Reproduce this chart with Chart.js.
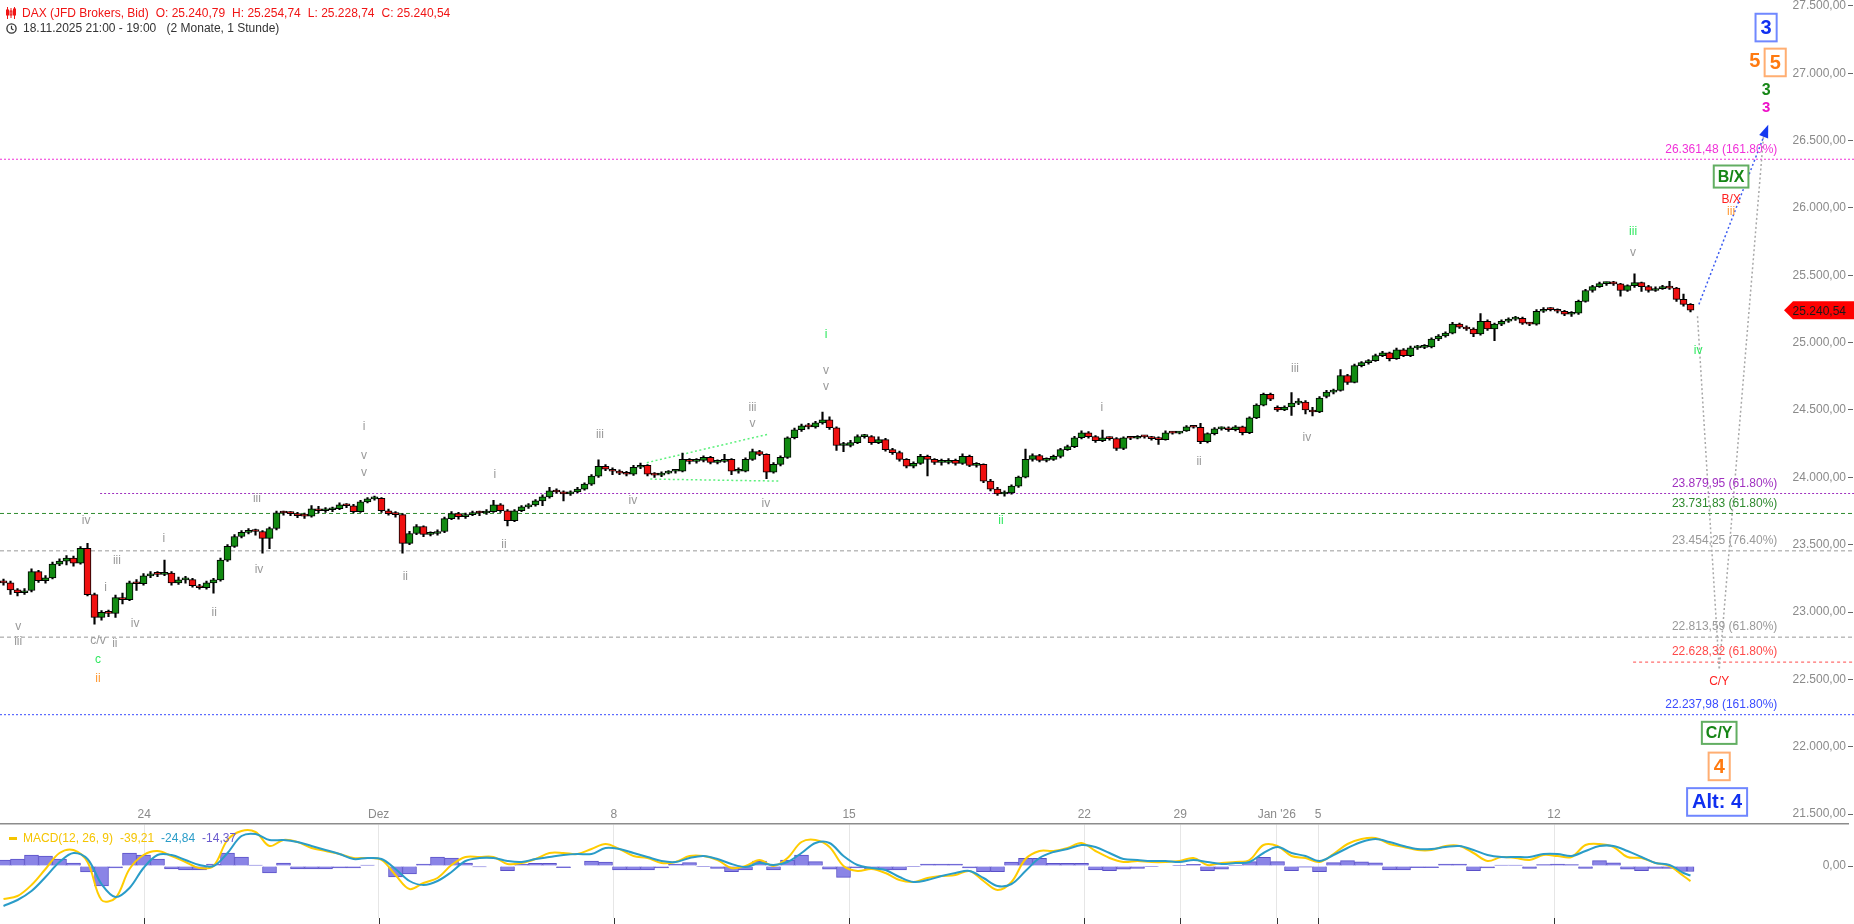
<!DOCTYPE html>
<html>
<head>
<meta charset="utf-8">
<script src="https://cdn.jsdelivr.net/npm/chart.js@4.4.1/dist/chart.umd.min.js"></script>
<style>
  body { margin: 0; background: #fff; font-family: "Liberation Sans", Arial, sans-serif; }
  #wrap { position: relative; width: 1854px; height: 924px; overflow: hidden; }
  canvas { position: absolute; left: 0; }
  #price { top: 0; }
  #macd { top: 800px; }
  .row { position: absolute; left: 6px; font-size: 12px; line-height: 14px; white-space: pre; display: flex; align-items: center; }
  .row svg { margin-right: 6px; }
  .row span { margin-right: 7px; }
  #head1 { top: 6px; color: #f01414; }
  #head2 { top: 21px; color: #333; }
  #legend { top: 831px; left: 9px; }
  #legend i { display: inline-block; width: 8px; height: 3px; background: #f5c400; margin-right: 6px; }
</style>
</head>
<body>
<div id="wrap">
  <canvas id="price" width="1854" height="824"></canvas>
  <canvas id="macd" width="1854" height="124"></canvas>
  <div class="row" id="head1">
    <svg width="10" height="12" viewBox="0 0 10 12"><g stroke="#f01414" fill="none" stroke-width="1"><path d="M1.5 0v12M5 1v10M8.5 0v12"/><rect x="0.5" y="3" width="2" height="5"/><rect x="4" y="4" width="2" height="4"/><rect x="7.5" y="2" width="2" height="6"/></g></svg>
    <span id="title"></span><span id="ohlcO"></span><span id="ohlcH"></span><span id="ohlcL"></span><span id="ohlcC"></span>
  </div>
  <div class="row" id="head2">
    <svg width="11" height="11" viewBox="0 0 11 11"><circle cx="5.5" cy="5.5" r="4.6" stroke="#333" stroke-width="1.3" fill="none"/><path d="M5.5 2.8v2.9l2 1.4" stroke="#333" stroke-width="1.2" fill="none"/></svg>
    <span>18.11.2025 21:00 - 19:00 </span><span>(2 Monate, 1 Stunde)</span>
  </div>
  <div class="row" id="legend">
    <i></i><span style="color:#f5c400">MACD(12, 26, 9)</span><span id="lgM" style="color:#f5c400"></span><span id="lgS" style="color:#2a9cc8"></span><span id="lgH" style="color:#6a5acd"></span>
  </div>
</div>
<script>
const FONT = '"Liberation Sans", Arial, sans-serif';

// 3-hour candles, DAX (JFD Brokers, Bid)
const open = [
  23230, 23217, 23165, 23143, 23160, 23300, 23232, 23254, 23356, 23378,
  23400, 23363, 23473, 23129, 22960, 22997, 22990, 23107, 23092, 23217,
  23210, 23268, 23283, 23280, 23290, 23217, 23239, 23240, 23195, 23180,
  23217, 23239, 23385, 23488, 23561, 23591, 23605, 23598, 23547, 23620,
  23737, 23735, 23730, 23715, 23712, 23767, 23752, 23759, 23767, 23796,
  23789, 23745, 23818, 23840, 23845, 23752, 23730, 23723, 23510, 23583,
  23635, 23576, 23583, 23598, 23693, 23730, 23708, 23723, 23737, 23735,
  23745, 23796, 23752, 23679, 23752, 23781, 23796, 23825, 23855, 23899,
  23891, 23877, 23891, 23913, 23950, 24009, 24082, 24060, 24045, 24031,
  24023, 24075, 24089, 24023, 24016, 24031, 24045, 24045, 24133, 24118,
  24126, 24148, 24111, 24118, 24133, 24045, 24045, 24133, 24192, 24170,
  24038, 24096, 24148, 24294, 24353, 24382, 24375, 24404, 24426, 24368,
  24236, 24236, 24258, 24302, 24302, 24258, 24280, 24206, 24184, 24133,
  24082, 24104, 24155, 24133, 24111, 24111, 24126, 24104, 24155, 24089,
  24096, 23972, 23913, 23876, 23884, 23935, 24001, 24133, 24162, 24126,
  24133, 24155, 24206, 24228, 24294, 24331, 24302, 24272, 24294, 24287,
  24214, 24294, 24290, 24302, 24300, 24287, 24280, 24331, 24328, 24345,
  24375, 24372, 24265, 24324, 24360, 24368, 24353, 24375, 24331, 24441,
  24536, 24617, 24520, 24500, 24522, 24551, 24558, 24500, 24485, 24600,
  24632, 24646, 24756, 24705, 24829, 24851, 24866, 24903, 24925, 24881,
  24947, 24903, 24961, 24965, 24969, 25027, 25049, 25071, 25137, 25115,
  25101, 25064, 25159, 25101, 25137, 25159, 25174, 25181, 25144, 25137,
  25233, 25247, 25245, 25233, 25211, 25218, 25306, 25387, 25416, 25438,
  25440, 25436, 25387, 25423, 25445, 25416, 25387, 25401, 25409, 25405,
  25321, 25284
];
const high = [
  23245, 23230, 23175, 23175, 23320, 23310, 23270, 23370, 23395, 23420,
  23415, 23485, 23510, 23140, 23010, 23015, 23125, 23140, 23230, 23240,
  23285, 23300, 23300, 23385, 23300, 23260, 23265, 23250, 23205, 23230,
  23250, 23400, 23500, 23575, 23605, 23620, 23615, 23605, 23630, 23750,
  23750, 23745, 23740, 23735, 23790, 23785, 23775, 23780, 23810, 23805,
  23800, 23830, 23850, 23860, 23850, 23765, 23745, 23730, 23600, 23650,
  23640, 23595, 23610, 23705, 23745, 23740, 23735, 23750, 23750, 23760,
  23830, 23805, 23760, 23760, 23790, 23805, 23835, 23870, 23925, 23915,
  23900, 23900, 23925, 23960, 24020, 24130, 24095, 24070, 24055, 24045,
  24090, 24105, 24095, 24035, 24040, 24050, 24055, 24180, 24140, 24140,
  24160, 24155, 24130, 24170, 24140, 24070, 24145, 24210, 24200, 24175,
  24110, 24160, 24300, 24365, 24395, 24400, 24415, 24485, 24450, 24375,
  24260, 24275, 24315, 24320, 24310, 24300, 24290, 24215, 24195, 24140,
  24115, 24170, 24165, 24140, 24135, 24140, 24135, 24175, 24165, 24110,
  24100, 23985, 23925, 23900, 23945, 24010, 24210, 24175, 24170, 24145,
  24165, 24215, 24240, 24305, 24345, 24340, 24310, 24350, 24300, 24295,
  24300, 24300, 24310, 24310, 24305, 24300, 24345, 24340, 24340, 24385,
  24385, 24400, 24330, 24370, 24375, 24375, 24385, 24380, 24450, 24545,
  24625, 24625, 24530, 24530, 24630, 24585, 24570, 24520, 24600, 24645,
  24655, 24800, 24765, 24840, 24860, 24875, 24915, 24935, 24930, 24960,
  24955, 24975, 24980, 24985, 25035, 25060, 25080, 25150, 25145, 25125,
  25110, 25215, 25170, 25145, 25170, 25185, 25195, 25190, 25150, 25245,
  25260, 25260, 25250, 25240, 25230, 25315, 25395, 25425, 25450, 25450,
  25455, 25440, 25430, 25510, 25450, 25425, 25415, 25425, 25455, 25410,
  25360, 25290
];
const low = [
  23200, 23130, 23120, 23130, 23150, 23220, 23215, 23245, 23345, 23350,
  23340, 23355, 23120, 22910, 22940, 22965, 22960, 23060, 23085, 23160,
  23200, 23255, 23262, 23270, 23200, 23205, 23215, 23185, 23170, 23170,
  23140, 23230, 23375, 23480, 23550, 23580, 23570, 23437, 23470, 23610,
  23720, 23715, 23700, 23695, 23705, 23735, 23740, 23745, 23760, 23775,
  23735, 23740, 23810, 23830, 23740, 23720, 23705, 23437, 23500, 23575,
  23560, 23565, 23570, 23590, 23685, 23690, 23695, 23715, 23715, 23725,
  23740, 23740, 23640, 23670, 23745, 23770, 23785, 23790, 23845, 23880,
  23825, 23865, 23885, 23905, 23940, 24000, 24050, 24020, 24020, 24010,
  24015, 24065, 24010, 24000, 24005, 24025, 24030, 24040, 24100, 24105,
  24115, 24100, 24100, 24110, 24020, 24030, 24040, 24125, 24160, 23990,
  24030, 24085, 24140, 24285, 24340, 24360, 24365, 24395, 24355, 24200,
  24190, 24225, 24250, 24290, 24245, 24250, 24195, 24170, 24120, 24070,
  24070, 24095, 24010, 24095, 24090, 24100, 24090, 24095, 24080, 24075,
  23960, 23900, 23865, 23860, 23875, 23925, 23995, 24120, 24115, 24115,
  24125, 24145, 24200, 24220, 24285, 24290, 24260, 24265, 24275, 24200,
  24205, 24280, 24285, 24290, 24275, 24245, 24275, 24320, 24322, 24340,
  24365, 24250, 24255, 24315, 24350, 24340, 24345, 24315, 24325, 24435,
  24530, 24570, 24490, 24495, 24460, 24540, 24470, 24455, 24480, 24590,
  24620, 24640, 24690, 24700, 24820, 24840, 24860, 24895, 24865, 24875,
  24895, 24895, 24950, 24955, 24960, 25015, 25040, 25065, 25105, 25090,
  25045, 25055, 25090, 25015, 25125, 25150, 25165, 25135, 25125, 25130,
  25225, 25235, 25220, 25200, 25195, 25210, 25300, 25375, 25410, 25425,
  25425, 25345, 25380, 25410, 25380, 25375, 25380, 25395, 25395, 25305,
  25270, 25228.74
];
const close = [
  23217, 23165, 23143, 23158, 23300, 23232, 23254, 23356, 23378, 23400,
  23363, 23473, 23129, 22960, 22997, 22990, 23107, 23092, 23217, 23210,
  23268, 23283, 23280, 23290, 23217, 23239, 23240, 23195, 23180, 23217,
  23239, 23385, 23488, 23561, 23591, 23605, 23598, 23547, 23620, 23737,
  23735, 23730, 23715, 23712, 23767, 23752, 23759, 23767, 23796, 23789,
  23745, 23818, 23840, 23845, 23752, 23730, 23723, 23510, 23583, 23635,
  23576, 23583, 23598, 23693, 23730, 23708, 23723, 23737, 23735, 23745,
  23796, 23752, 23679, 23752, 23781, 23796, 23825, 23855, 23899, 23891,
  23877, 23891, 23913, 23950, 24009, 24082, 24060, 24045, 24031, 24023,
  24075, 24089, 24023, 24016, 24031, 24045, 24045, 24133, 24118, 24126,
  24148, 24111, 24118, 24133, 24045, 24045, 24133, 24192, 24170, 24038,
  24096, 24148, 24294, 24353, 24382, 24375, 24404, 24426, 24368, 24236,
  24236, 24258, 24302, 24302, 24258, 24280, 24206, 24184, 24133, 24082,
  24104, 24155, 24133, 24111, 24111, 24126, 24104, 24155, 24089, 24096,
  23972, 23913, 23876, 23884, 23935, 24001, 24133, 24162, 24126, 24133,
  24155, 24206, 24228, 24294, 24331, 24302, 24272, 24294, 24287, 24214,
  24294, 24290, 24302, 24300, 24287, 24280, 24331, 24328, 24331, 24375,
  24372, 24265, 24324, 24360, 24368, 24353, 24375, 24331, 24441, 24536,
  24617, 24580, 24500, 24522, 24551, 24558, 24500, 24485, 24588, 24632,
  24646, 24756, 24705, 24829, 24851, 24866, 24903, 24925, 24881, 24947,
  24903, 24961, 24965, 24969, 25027, 25049, 25071, 25137, 25115, 25101,
  25064, 25159, 25101, 25137, 25159, 25174, 25181, 25144, 25137, 25233,
  25247, 25245, 25233, 25211, 25218, 25306, 25387, 25416, 25438, 25440,
  25436, 25387, 25423, 25445, 25416, 25387, 25401, 25409, 25405, 25321,
  25284, 25240.54
];

// last hourly bar shown in the header
const lastBar = { o: 25240.79, h: 25254.74, l: 25228.74, c: 25240.54 };

// MACD(12, 26, 9), one reading every second candle (last one on the final candle)
const macdLine = [
  -85.8, -78, -49.4, -7.8, 33.8, 41.6, 10.4, -88.4, -83.2, -7.8,
  28.6, 39, 26, 10.4, -5.2, 0, 67.6, 91, 88.4, 52,
  67.6, 62.4, 46.8, 39, 31.2, 20.8, 20.8, 15.6, -23.4, -59.8,
  -44.2, -31.2, 2.6, 23.4, 23.4, 23.4, 5.2, 7.8, 18.2, 33.8,
  33.8, 31.2, 44.2, 57.2, 44.2, 26, 20.8, 7.8, 10.4, 26,
  26, 15.6, -5.2, 0, 15.6, 0, 20.8, 62.4, 67.6, 49.4,
  0, -13, -7.8, -18.2, -36.4, -41.6, -31.2, -26, -23.4, -13,
  -39, -62.4, -41.6, 18.2, 39, 39, 46.8, 59.8, 39, 20.8,
  10.4, 13, 10.4, 10.4, 13, 20.8, 2.6, 7.8, 10.4, 15.6,
  54.6, 52, 26, 20.8, 10.4, 31.2, 57.2, 70.2, 72.8, 57.2,
  49.4, 41.6, 41.6, 52, 52, 33.8, 13, 23.4, 20.8, 15.6,
  28.6, 26, 23.4, 54.6, 57.2, 49.4, 23.4, 20.8, 7.8, 0,
  -26, -39.21
];
const signalLine = [
  -104, -88.4, -65, -28.6, 10.4, 33.8, 18.2, -46.8, -80.6, -57.2,
  -5.2, 28.6, 28.6, 15.6, 2.6, 0, 33.8, 78, 83.2, 67.6,
  67.6, 62.4, 52, 41.6, 31.2, 18.2, 20.8, 18.2, -7.8, -39,
  -49.4, -39, -15.6, 13, 20.8, 20.8, 13, 10.4, 18.2, 23.4,
  28.6, 31.2, 31.2, 46.8, 44.2, 33.8, 23.4, 13, 10.4, 20.8,
  26, 18.2, 5.2, -2.6, 7.8, 2.6, 10.4, 33.8, 59.8, 59.8,
  26, 2.6, -5.2, -10.4, -28.6, -41.6, -36.4, -26, -18.2, -13,
  -31.2, -52, -46.8, -13, 20.8, 36.4, 44.2, 54.6, 49.4, 33.8,
  18.2, 15.6, 13, 13, 10.4, 15.6, 10.4, 5.2, 7.8, 10.4,
  33.8, 49.4, 33.8, 26, 13, 28.6, 46.8, 62.4, 70.2, 62.4,
  52, 44.2, 44.2, 49.4, 52, 41.6, 28.6, 23.4, 23.4, 23.4,
  31.2, 31.2, 26, 39, 52, 52, 39, 23.4, 7.8, 2.6,
  -18.2, -24.84
];
const histogram = [
  15.6, 18, 28.6, 26, 18.2, 7.8, -15.6, -52, -5, 33.8,
  28.6, 18.2, -7.8, -10.4, -10.4, 5.2, 33.8, 23.4, 2.6, -18.2,
  7.8, -7.8, -7.8, -7.8, -5.2, -5.2, 2.6, 0, -28.6, -20.8,
  5.2, 23.4, 20.8, 7.8, -2.6, 0, -12.2, 5, 7, 7,
  -4.4, 0, 13, 10.4, -10.4, -10.4, -10.4, -5, 5, 8.6,
  -2, -6, -14.8, -10, 13, -10, 15.6, 28.6, 11.2, -8,
  -29.4, -5, -8, -10.4, -10.4, -2, 5.2, 5.2, 5.2, -5,
  -14.8, -14.8, 10, 20, 20, 7, 7, 7, -10.4, -12.2,
  -8, -6, -2, 0, 2, 4.4, -12.2, -8, 2.6, 11.2,
  22.6, 11.2, -12.2, -3, -14.8, 8.6, 13.8, 11, 8, -10.4,
  -10.4, -4.4, -4.4, 5.2, 5.2, -12.2, -5, 2.6, 2.6, -6,
  4, 5.2, 4, -6, 13.8, 8, -8, -12.2, -6, -6,
  -14.4, -14.37
];

// axes
const priceTicks = [21500, 22000, 22500, 23000, 23500, 24000, 24500, 25000, 25500, 26000, 26500, 27000, 27500];
const tickPos = [20.1, 53.6, 87.2, 120.8, 154.4, 168.1, 181.9, 187.8, 221.5];
const tickText = ['24', 'Dez', '8', '15', '22', '29', "Jan '26", '5', '12'];

// Fibonacci levels
const fibLevels = [26361.48, 23879.95, 23731.83, 23454.25, 22813.59, 22628.32, 22237.98];
const fibPct = ['161.80%', '61.80%', '61.80%', '76.40%', '61.80%', '61.80%', '161.80%'];
const fibFrom = [-0.5, 13.8, -0.5, -0.5, -0.5, 232.8, -0.5];
const fibColor = ['#f030d8', '#a030c0', '#2e8b2e', '#999999', '#999999', '#ff4a4a', '#3a4cff'];
const fibDash = [[2, 2], [2, 2], [4, 3], [4, 3], [4, 3], [3, 3], [2, 2]];

// projected paths
const blueProj = [[242.2, 25284], [251.9, 26589]];
const grayProj = [[242.0, 25196], [245.1, 22572], [251.5, 26574]];
const wedgeTop = [[91.9, 24109], [109.3, 24321]];
const wedgeBottom = [[92.4, 23987], [110.9, 23972]];

// wave counts: text, candle slot, price, colour
const GRAY = '#9a9a9a', LIME = '#30e860', ORANGE = '#ff9933', RED = '#ff2020';
const waveLabels = [
  ['iv', 11.8, 23679, GRAY], ['iii', 36.2, 23840, GRAY], ['i', 22.9, 23547, GRAY],
  ['iii', 16.2, 23378, GRAY], ['i', 14.6, 23180, GRAY], ['v', 2.1, 22894, GRAY],
  ['iv', 18.8, 22916, GRAY], ['ii', 30.1, 22997, GRAY], ['iv', 36.5, 23312, GRAY],
  ['iii', 2.1, 22777, GRAY], ['c/v', 13.5, 22785, GRAY], ['ii', 15.9, 22763, GRAY],
  ['c', 13.5, 22645, LIME], ['ii', 13.5, 22506, ORANGE],
  ['i', 51.5, 24375, GRAY], ['v', 51.5, 24163, GRAY], ['v', 51.5, 24038, GRAY],
  ['ii', 57.4, 23261, GRAY], ['i', 70.2, 24023, GRAY], ['ii', 71.5, 23503, GRAY],
  ['iii', 85.2, 24317, GRAY], ['iv', 89.9, 23825, GRAY], ['iii', 107, 24517, GRAY],
  ['v', 107, 24397, GRAY], ['iv', 108.9, 23803, GRAY],
  ['i', 117.5, 25062, LIME], ['v', 117.5, 24793, GRAY], ['v', 117.5, 24676, GRAY],
  ['ii', 142.5, 23681, LIME], ['i', 156.9, 24514, GRAY], ['ii', 170.8, 24119, GRAY],
  ['iii', 184.5, 24808, GRAY], ['iv', 186.2, 24294, GRAY],
  ['iii', 232.8, 25826, LIME], ['v', 232.8, 25665, GRAY], ['iv', 242.1, 24940, LIME],
  ['B/X', 246.8, 26061, RED], ['iii', 246.8, 25973, ORANGE], ['C/Y', 245.1, 22484, RED]
];
// bold targets: text, slot, price, colour, box colour (null = no box), font size
const targetLabels = [
  ['3', 251.8, 27339, '#1030f0', '#7088ff', 20],
  ['5', 250.2, 27094, '#ff7a10', null, 20],
  ['5', 253.1, 27080, '#ff7a10', '#ffae72', 20],
  ['3', 251.8, 26882, '#168616', null, 16],
  ['3', 251.8, 26750, '#ee10c8', null, 15],
  ['B/X', 246.8, 26233, '#168616', '#62ae62', 16],
  ['C/Y', 245.1, 22103, '#168616', '#62ae62', 16],
  ['4', 245.1, 21854, '#ff7a10', '#ffae72', 20],
  ['Alt: 4', 244.8, 21590, '#1030f0', '#6f86ff', 20]
];

const SLOTS = 264;
const X_MIN = -0.5, X_MAX = SLOTS - 0.5, X_EDGE = 264.4;
const FIB_LABEL_X = 253.4;

function fmt(v) {
  const parts = Math.abs(v).toFixed(2).split('.');
  return (v < 0 ? '-' : '') + parts[0].replace(/\B(?=(\d{3})+(?!\d))/g, '.') + ',' + parts[1];
}
const pts = (arr) => arr.map((p) => ({ x: p[0], y: p[1] }));

document.getElementById('title').textContent = 'DAX (JFD Brokers, Bid)';
document.getElementById('ohlcO').textContent = 'O: ' + fmt(lastBar.o);
document.getElementById('ohlcH').textContent = 'H: ' + fmt(lastBar.h);
document.getElementById('ohlcL').textContent = 'L: ' + fmt(lastBar.l);
document.getElementById('ohlcC').textContent = 'C: ' + fmt(lastBar.c);
document.getElementById('lgM').textContent = fmt(macdLine[macdLine.length - 1]);
document.getElementById('lgS').textContent = fmt(signalLine[signalLine.length - 1]);
document.getElementById('lgH').textContent = fmt(histogram[histogram.length - 1]);

const rightAxis = (ticks, min, max) => ({
  position: 'right',
  min: min,
  max: max,
  afterFit: (ax) => { ax.width = 6; },
  afterBuildTicks: (ax) => { ax.ticks = ticks.map((v) => ({ value: v })); },
  border: { display: false },
  grid: { drawOnChartArea: false, drawTicks: true, tickLength: 5, color: '#666' },
  ticks: {
    mirror: true, padding: -2, autoSkip: false, color: '#8a8a8a',
    font: { family: FONT, size: 12 },
    callback: (v) => fmt(v)
  }
});

// ---------- price panel ----------
const candleLines = [];
fibLevels.forEach((v, k) => {
  candleLines.push({
    type: 'line', data: pts([[fibFrom[k], v], [X_EDGE, v]]),
    borderColor: fibColor[k], borderWidth: 1, borderDash: fibDash[k],
    pointRadius: 0, clip: false, order: 3
  });
});
[[wedgeTop, '#5cf07c'], [wedgeBottom, '#5cf07c'], [grayProj, '#a8a8a8'], [blueProj, '#3a5af0']].forEach((p) => {
  candleLines.push({
    type: 'line', data: pts(p[0]), borderColor: p[1], borderWidth: 1.5,
    borderDash: [2, 2.5], pointRadius: 0, clip: false, order: 2
  });
});

const wavePlugin = {
  id: 'waves',
  afterDatasetsDraw(chart) {
    const { ctx } = chart;
    const x = chart.scales.x, y = chart.scales.y;
    ctx.save();
    ctx.textBaseline = 'middle';

    ctx.textAlign = 'right';
    ctx.font = '12px ' + FONT;
    fibLevels.forEach((v, k) => {
      ctx.fillStyle = fibColor[k];
      ctx.fillText(fmt(v) + ' (' + fibPct[k] + ')', x.getPixelForValue(FIB_LABEL_X), y.getPixelForValue(v) - 10);
    });

    ctx.textAlign = 'center';
    waveLabels.forEach((w) => {
      ctx.fillStyle = w[3];
      ctx.fillText(w[0], x.getPixelForValue(w[1]), y.getPixelForValue(w[2]));
    });

    targetLabels.forEach((t) => {
      const px = x.getPixelForValue(t[1]), py = y.getPixelForValue(t[2]);
      const size = t[5];
      ctx.font = 'bold ' + size + 'px ' + FONT;
      if (t[4]) {
        const w = ctx.measureText(t[0]).width + size * 0.5;
        const h = size * 1.38;
        ctx.fillStyle = '#fff';
        ctx.fillRect(px - w / 2, py - h / 2, w, h);
        ctx.strokeStyle = t[4];
        ctx.lineWidth = 2;
        ctx.strokeRect(px - w / 2, py - h / 2, w, h);
      }
      ctx.fillStyle = t[3];
      ctx.fillText(t[0], px, py + 1);
    });

    // arrow head at the end of the blue projection
    const a = blueProj[0], b = blueProj[1];
    const ax = x.getPixelForValue(a[0]), ay = y.getPixelForValue(a[1]);
    const bx = x.getPixelForValue(b[0]), by = y.getPixelForValue(b[1]);
    const ang = Math.atan2(by - ay, bx - ax);
    ctx.fillStyle = '#1438f0';
    ctx.beginPath();
    ctx.moveTo(bx + Math.cos(ang) * 4, by + Math.sin(ang) * 4);
    ctx.lineTo(bx - Math.cos(ang - 0.5) * 10, by - Math.sin(ang - 0.5) * 10);
    ctx.lineTo(bx - Math.cos(ang + 0.5) * 10, by - Math.sin(ang + 0.5) * 10);
    ctx.closePath();
    ctx.fill();

    // current price tag
    const ty = y.getPixelForValue(lastBar.c);
    const right = chart.width;
    ctx.fillStyle = '#ff0000';
    ctx.beginPath();
    ctx.moveTo(right - 70, ty);
    ctx.lineTo(right - 61, ty - 9);
    ctx.lineTo(right, ty - 9);
    ctx.lineTo(right, ty + 9);
    ctx.lineTo(right - 61, ty + 9);
    ctx.closePath();
    ctx.fill();
    ctx.fillStyle = '#1a1a1a';
    ctx.font = '12px ' + FONT;
    ctx.textAlign = 'right';
    ctx.fillText(fmt(lastBar.c), right - 8, ty + 1);
    ctx.restore();
  }
};

new Chart(document.getElementById('price'), {
  type: 'bar',
  data: {
    datasets: [
      {
        data: close.map((c, i) => ({ x: i, y: [open[i], c] })),
        backgroundColor: close.map((c, i) => (c >= open[i] ? '#118a11' : '#f01010')),
        borderColor: '#000', borderWidth: 1, borderSkipped: false,
        barThickness: 7, minBarLength: 2, grouped: false, order: 0
      },
      {
        data: close.map((c, i) => ({ x: i, y: [low[i], high[i]] })),
        backgroundColor: '#000', barThickness: 1.5, grouped: false, order: 1
      },
      ...candleLines
    ]
  },
  options: {
    responsive: false, animation: false, devicePixelRatio: 1,
    layout: { padding: 0 },
    plugins: { legend: { display: false }, tooltip: { enabled: false } },
    scales: {
      x: { type: 'linear', display: false, min: X_MIN, max: X_MAX, offset: false, grid: { offset: false } },
      y: rightAxis(priceTicks, 21465, 27505)
    }
  },
  plugins: [wavePlugin]
});

// ---------- MACD panel ----------
const bottomTicks = {
  id: 'bottomTicks',
  afterDraw(chart) {
    const { ctx, chartArea } = chart;
    const x = chart.scales.x;
    ctx.save();
    ctx.strokeStyle = '#333';
    ctx.lineWidth = 1;
    tickPos.forEach((v) => {
      const px = Math.round(x.getPixelForValue(v)) + 0.5;
      ctx.beginPath();
      ctx.moveTo(px, chartArea.bottom);
      ctx.lineTo(px, chartArea.bottom + 6);
      ctx.stroke();
    });
    ctx.restore();
  }
};

const macdX = (k) => Math.min(2 * k, close.length - 1);
new Chart(document.getElementById('macd'), {
  type: 'bar',
  data: {
    datasets: [
      {
        type: 'line', data: signalLine.map((v, k) => ({ x: macdX(k), y: v })),
        borderColor: '#2a9cc8', borderWidth: 2, pointRadius: 0, tension: 0.35, order: 0
      },
      {
        type: 'line', data: macdLine.map((v, k) => ({ x: macdX(k), y: v })),
        borderColor: '#ffcc00', borderWidth: 2, pointRadius: 0, tension: 0.35, order: 1
      },
      {
        data: histogram.map((v, k) => ({ x: macdX(k), y: v })),
        backgroundColor: '#8a84e6', borderColor: '#5a50c8', borderWidth: 1,
        barThickness: 'flex', barPercentage: 1, categoryPercentage: 1, order: 2
      }
    ]
  },
  options: {
    responsive: false, animation: false, devicePixelRatio: 1,
    layout: { padding: { bottom: 6 } },
    plugins: { legend: { display: false }, tooltip: { enabled: false } },
    scales: {
      x: {
        type: 'linear', position: 'top', min: X_MIN, max: X_MAX, offset: false,
        afterFit: (ax) => { ax.height = 24; },
        afterBuildTicks: (ax) => { ax.ticks = tickPos.map((v) => ({ value: v })); },
        border: { color: '#8c8c8c', width: 1.5 },
        grid: { color: '#e6e6e6', drawTicks: false, offset: false },
        ticks: {
          autoSkip: false, maxRotation: 0, padding: 2, color: '#8a8a8a',
          font: { family: FONT, size: 12 },
          callback: (v, i) => tickText[i]
        }
      },
      y: rightAxis([0], -135.2, 109.2)
    }
  },
  plugins: [bottomTicks]
});
</script>
</body>
</html>
